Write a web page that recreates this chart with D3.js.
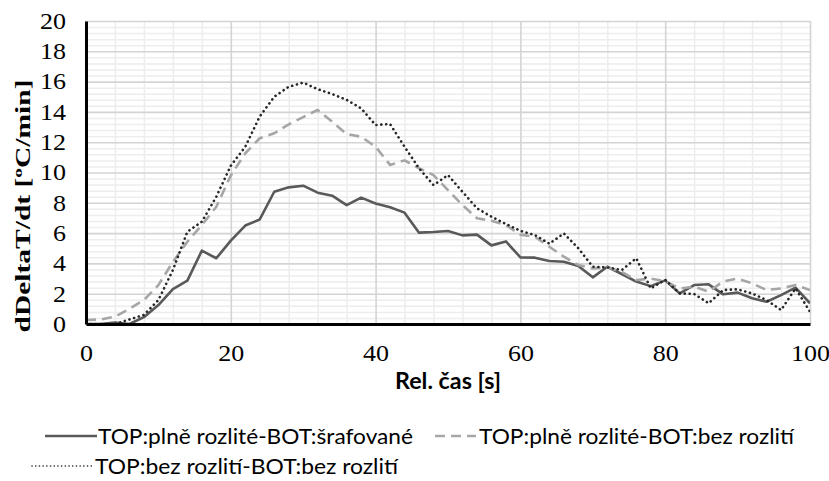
<!DOCTYPE html>
<html>
<head>
<meta charset="utf-8">
<script src="https://cdn.jsdelivr.net/npm/d3@7"></script>
<style>
  body { margin: 0; background: #fff; }
</style>
</head>
<body>
<div id="chart"></div>
<script>
const relTime = [0, 2, 4, 6, 8, 10, 12, 14, 16, 18, 20, 22, 24, 26, 28, 30, 32, 34, 36, 38, 40,
                 42, 44, 46, 48, 50, 52, 54, 56, 58, 60, 62, 64, 66, 68, 70, 72, 74, 76, 78, 80,
                 82, 84, 86, 88, 90, 92, 94, 96, 98, 100];

const plneSrafovane = [0, 0, 0.1, 0, 0.45, 1.25, 2.3, 2.86, 4.84, 4.34, 5.5,
                       6.5, 6.9, 8.73, 9.02, 9.13, 8.67, 8.47, 7.85, 8.34, 7.95,
                       7.7, 7.35, 6.03, 6.07, 6.14, 5.85, 5.9, 5.19, 5.45, 4.4,
                       4.38, 4.16, 4.11, 3.83, 3.08, 3.78, 3.3, 2.8, 2.5, 2.88,
                       2.02, 2.57, 2.62, 1.96, 2.07, 1.7, 1.47, 1.91, 2.4, 1.37];

const plneBezRozliti = [0.26, 0.3, 0.48, 1.0, 1.58, 2.57, 4.1, 5.43, 6.53, 7.74, 9.8,
                        11.27, 12.26, 12.59, 13.18, 13.66, 14.13, 13.35, 12.54, 12.36, 11.7,
                        10.5, 10.8, 10.28, 9.83, 8.84, 7.85, 6.98, 6.82, 6.53, 5.9,
                        5.76, 5.1, 4.44, 3.9, 3.67, 3.74, 3.45, 2.9, 3.0, 2.83,
                        2.35, 2.46, 2.13, 2.8, 3.0, 2.69, 2.24, 2.35, 2.57, 2.24];

const bezBezRozliti = [0, 0, 0, 0.3, 0.6, 1.58, 3.56, 6.09, 6.75, 8.4, 10.45,
                       11.7, 13.7, 15.0, 15.66, 15.93, 15.5, 15.18, 14.79, 14.24, 13.13,
                       13.2, 11.7, 10.28, 9.17, 9.83, 8.73, 7.64, 7.08, 6.6, 6.15,
                       5.87, 5.3, 5.98, 5.0, 3.78, 3.74, 3.56, 4.34, 2.35, 2.92,
                       2.02, 1.98, 1.37, 2.24, 2.29, 2.02, 1.58, 0.92, 2.35, 0.81];

const seriesNames = ["TOP:plně rozlité-BOT:šrafované",
                     "TOP:plně rozlité-BOT:bez rozlití",
                     "TOP:bez rozlití-BOT:bez rozlití"];

const xTicks = [0, 20, 40, 60, 80, 100];
const yTicks = [0, 2, 4, 6, 8, 10, 12, 14, 16, 18, 20];
const xMinorTicks = [4, 8, 12, 16, 24, 28, 32, 36, 44, 48, 52, 56, 64, 68, 72, 76, 84, 88, 92, 96];

const width = 829, height = 481;
const margin = { top: 21, right: 19, bottom: 157, left: 86 },
      plotW = width - margin.left - margin.right,
      plotH = height - margin.top - margin.bottom;

const serif = "'Liberation Serif', 'Times New Roman', serif",
      sans = "Lato, 'Open Sans', sans-serif";

const svg = d3.select("#chart").append("svg")
    .attr("width", width)
    .attr("height", height);

const g = svg.append("g")
    .attr("transform", `translate(${margin.left},${margin.top})`);

const x = d3.scaleLinear().domain([0, 100]).range([0, plotW]),
      y = d3.scaleLinear().domain([0, 20]).range([plotH, 0]);

// minor grid (every 0.4 on y, every 4 on x)
const yMinor = [];
yTicks.slice(0, -1).forEach(v => [0.4, 0.8, 1.2, 1.6].forEach(s => yMinor.push(v + s)));

g.append("g")
    .call(d3.axisLeft(y).tickValues(yMinor).tickSize(-plotW).tickFormat(""))
    .call(a => a.select(".domain").remove())
    .selectAll("line").attr("stroke", "#ededed").attr("stroke-width", 1.5);

g.append("g")
    .attr("transform", `translate(0,${plotH})`)
    .call(d3.axisBottom(x).tickValues(xMinorTicks).tickSize(-plotH).tickFormat(""))
    .call(a => a.select(".domain").remove())
    .selectAll("line").attr("stroke", "#ededed").attr("stroke-width", 1.5);

// major grid
g.append("g")
    .call(d3.axisLeft(y).tickValues(yTicks).tickSize(-plotW).tickFormat(""))
    .call(a => a.select(".domain").remove())
    .selectAll("line").attr("stroke", "#d4d4d4").attr("stroke-width", 1.6);

g.append("g")
    .attr("transform", `translate(0,${plotH})`)
    .call(d3.axisBottom(x).tickValues(xTicks).tickSize(-plotH).tickFormat(""))
    .call(a => a.select(".domain").remove())
    .selectAll("line").attr("stroke", "#d4d4d4").attr("stroke-width", 1.6);

// lines
svg.append("defs").append("clipPath").attr("id", "plotClip")
    .append("rect").attr("x", 0).attr("y", -2).attr("width", plotW).attr("height", plotH + 2);

const line = d3.line()
    .x((d, i) => x(relTime[i]))
    .y(d => y(d));

const styles = [
    { data: plneSrafovane, color: "#595959", dash: null, cap: "butt" },
    { data: plneBezRozliti, color: "#a6a6a6", dash: "10,6", cap: "butt" },
    { data: bezBezRozliti, color: "#262626", dash: "0.1,4.8", cap: "round" }
];

const lines = g.append("g").attr("clip-path", "url(#plotClip)");
styles.forEach(s => {
    lines.append("path")
        .datum(s.data)
        .attr("fill", "none")
        .attr("stroke", s.color)
        .attr("stroke-width", 2.6)
        .attr("stroke-linejoin", "round")
        .attr("stroke-linecap", s.cap)
        .attr("stroke-dasharray", s.dash)
        .attr("d", line);
});

// axes
const yAxis = g.append("g")
    .call(d3.axisLeft(y).tickValues(yTicks).tickSize(0).tickPadding(20));
yAxis.select(".domain").attr("stroke", "#000").attr("stroke-width", 3);
yAxis.selectAll("text")
    .style("font-family", serif)
    .style("font-size", "23px")
    .attr("fill", "#000")
    .attr("textLength", d => String(d).length * 13)
    .attr("lengthAdjust", "spacingAndGlyphs");

const xAxis = g.append("g")
    .attr("transform", `translate(0,${plotH})`)
    .call(d3.axisBottom(x).tickValues(xTicks).tickSize(0).tickPadding(21));
xAxis.select(".domain").attr("stroke", "#000").attr("stroke-width", 3);
xAxis.selectAll("text")
    .style("font-family", serif)
    .style("font-size", "23px")
    .attr("fill", "#000")
    .attr("textLength", d => String(d).length * 13)
    .attr("lengthAdjust", "spacingAndGlyphs");

// axis titles
svg.append("text")
    .attr("transform", "translate(30,206) rotate(-90)")
    .attr("text-anchor", "middle")
    .attr("textLength", 253)
    .attr("lengthAdjust", "spacingAndGlyphs")
    .style("font-family", serif)
    .style("font-size", "22px")
    .style("font-weight", "bold")
    .text("dDeltaT/dt [ºC/min]");

svg.append("text")
    .attr("x", margin.left + plotW / 2)
    .attr("y", 389)
    .attr("text-anchor", "middle")
    .attr("textLength", 106)
    .attr("lengthAdjust", "spacingAndGlyphs")
    .style("font-family", sans)
    .style("font-size", "22px")
    .style("font-weight", "bold")
    .text("Rel. čas [s]");

// legend
const legendItems = [
    { x1: 45, x2: 97, tx: 98, y: 436, tw: 315, name: seriesNames[0], s: styles[0] },
    { x1: 435, x2: 476, tx: 479, y: 436, tw: 315, name: seriesNames[1], s: styles[1] },
    { x1: 32, x2: 92, tx: 95, y: 466, tw: 303, name: seriesNames[2], s: styles[2] }
];

const legend = svg.append("g");
legendItems.forEach(d => {
    legend.append("line")
        .attr("x1", d.x1).attr("x2", d.x2)
        .attr("y1", d.y).attr("y2", d.y)
        .attr("stroke", d.s.color)
        .attr("stroke-width", d.s.cap === "round" ? 1.6 : 2.4)
        .attr("stroke-linecap", d.s.cap)
        .attr("stroke-dasharray", d.s.cap === "round" ? "0.1,3.6" : d.s.dash);
    legend.append("text")
        .attr("x", d.tx)
        .attr("y", d.y + 7.5)
        .attr("textLength", d.tw)
        .attr("lengthAdjust", "spacingAndGlyphs")
        .style("font-family", sans)
        .style("font-size", "21.5px")
        .attr("fill", "#000")
        .text(d.name);
});
</script>
</body>
</html>
